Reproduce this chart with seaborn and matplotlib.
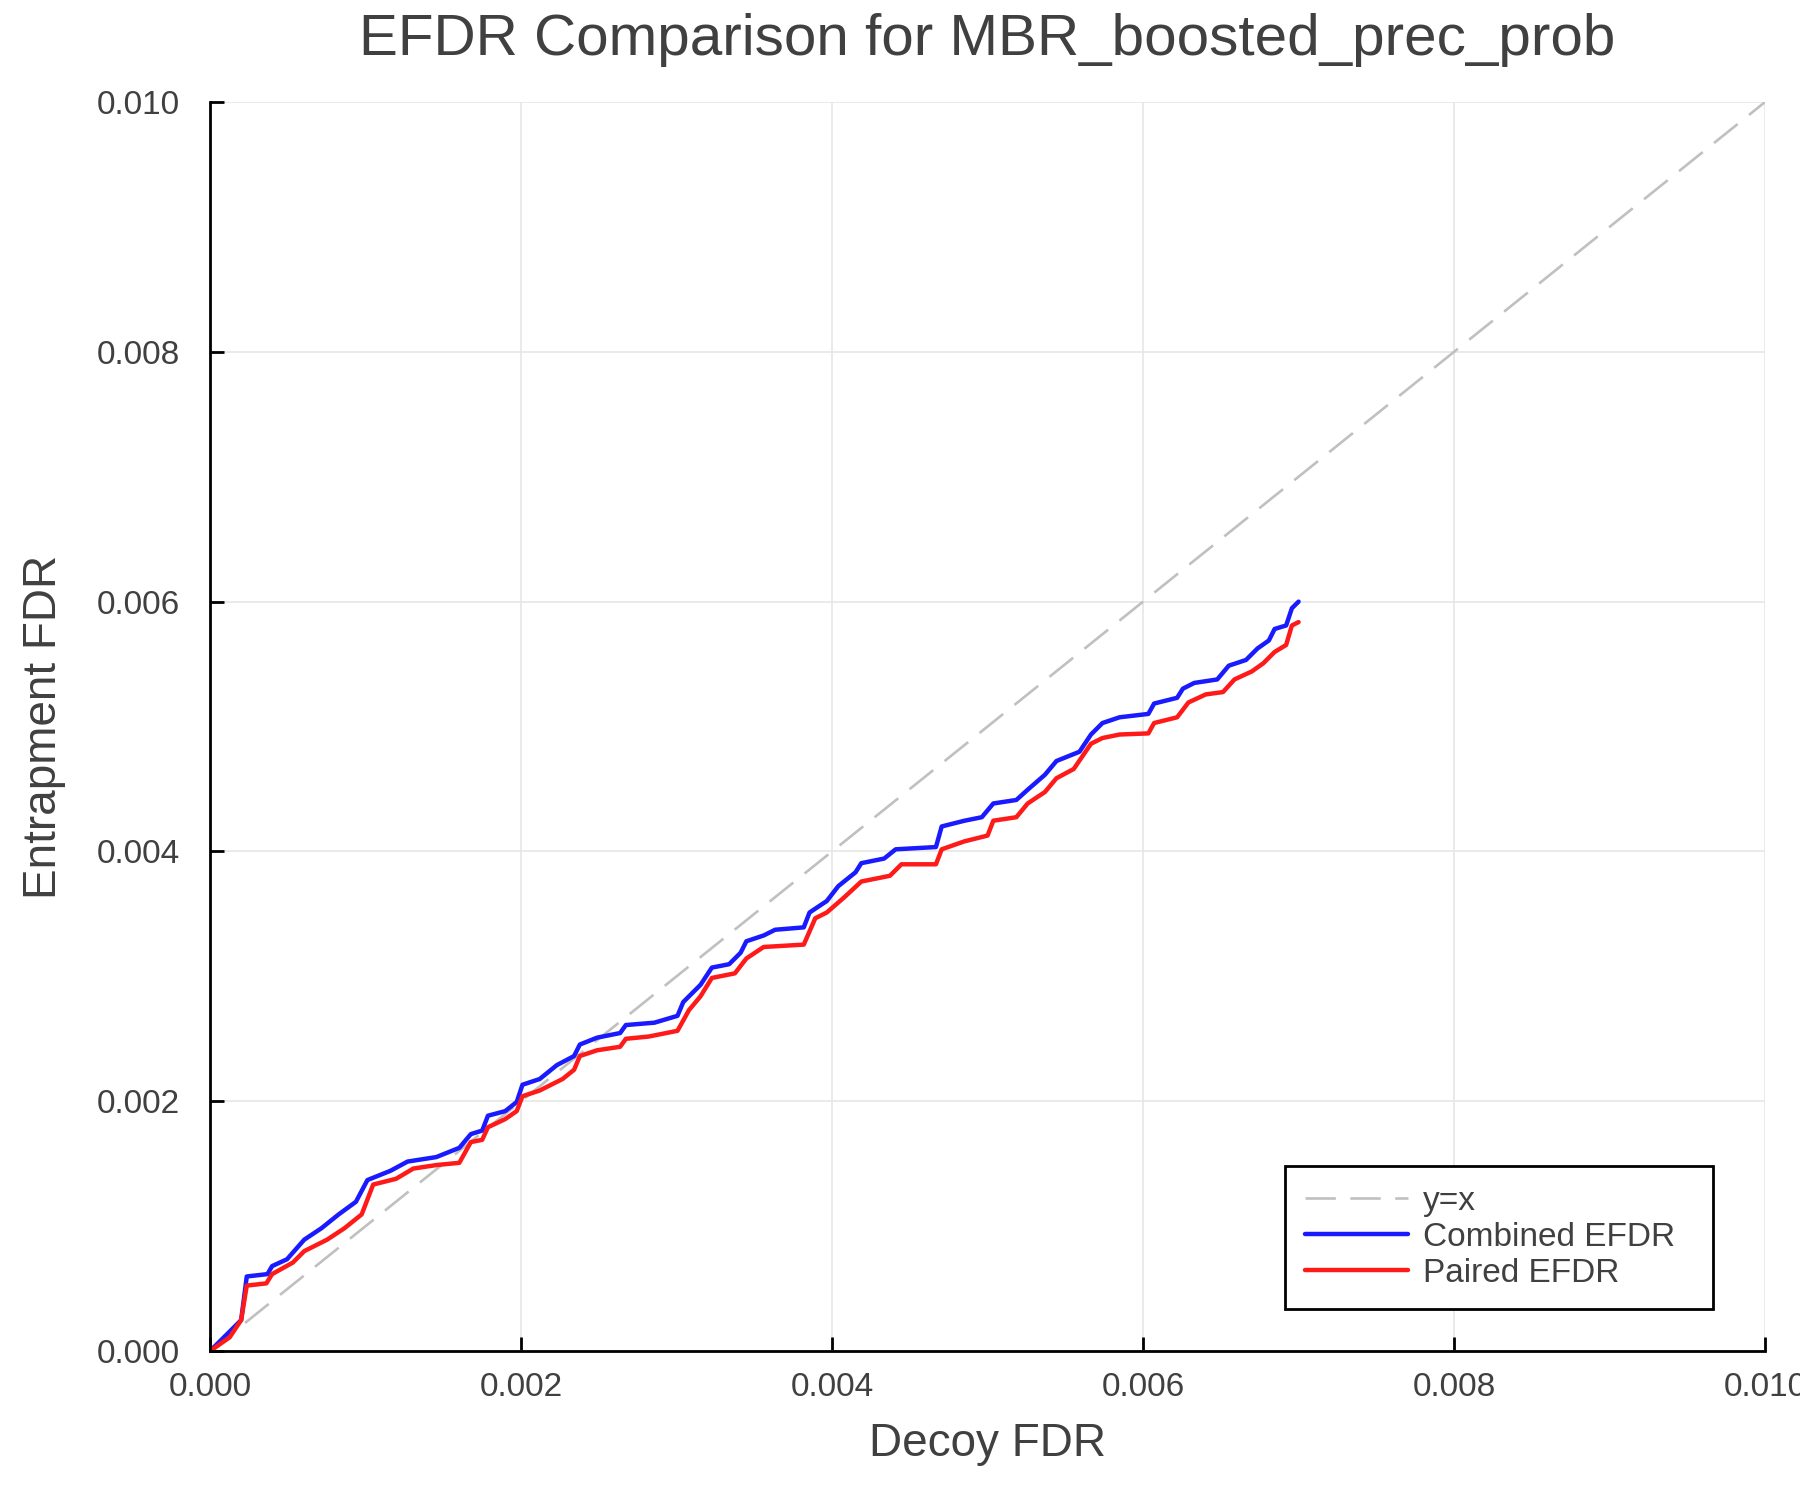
import numpy as np
import pandas as pd
import matplotlib
matplotlib.use('Agg')
import matplotlib.pyplot as plt
import seaborn as sns
from matplotlib.ticker import FormatStrFormatter

# values, in units of 1e-3
combined_x = [0.0, 0.126, 0.2, 0.236, 0.369, 0.399, 0.495, 0.606, 0.716, 0.827,
              0.938, 1.012, 1.16, 1.27, 1.455, 1.603, 1.677, 1.75, 1.787, 1.898,
              1.972, 2.009, 2.12, 2.23, 2.341, 2.378, 2.489, 2.637, 2.674, 2.858,
              3.006, 3.043, 3.154, 3.227, 3.338, 3.412, 3.449, 3.56, 3.634, 3.818,
              3.855, 3.966, 4.04, 4.151, 4.188, 4.335, 4.409, 4.668, 4.705, 4.852,
              4.963, 5.037, 5.185, 5.258, 5.369, 5.443, 5.591, 5.665, 5.739, 5.849,
              6.034, 6.071, 6.219, 6.256, 6.329, 6.477, 6.551, 6.662, 6.736, 6.809,
              6.846, 6.92, 6.957, 7.0]
combined_y = [0.0, 0.156, 0.248, 0.597, 0.616, 0.68, 0.735, 0.892, 0.983, 1.094,
              1.195, 1.369, 1.443, 1.517, 1.553, 1.627, 1.737, 1.765, 1.884, 1.921,
              1.994, 2.132, 2.178, 2.289, 2.362, 2.454, 2.509, 2.546, 2.61, 2.629,
              2.684, 2.794, 2.932, 3.07, 3.097, 3.189, 3.281, 3.327, 3.373, 3.392,
              3.511, 3.603, 3.722, 3.833, 3.906, 3.943, 4.017, 4.035, 4.2, 4.246,
              4.274, 4.384, 4.412, 4.494, 4.614, 4.724, 4.798, 4.936, 5.028, 5.074,
              5.101, 5.184, 5.23, 5.303, 5.349, 5.377, 5.487, 5.533, 5.625, 5.689,
              5.781, 5.809, 5.947, 6.0]

paired_x = [0.0, 0.126, 0.2, 0.236, 0.362, 0.399, 0.532, 0.606, 0.753, 0.864,
            0.975, 1.049, 1.196, 1.307, 1.455, 1.603, 1.677, 1.75, 1.787, 1.898,
            1.972, 2.009, 2.12, 2.267, 2.341, 2.378, 2.489, 2.637, 2.674, 2.821,
            3.006, 3.08, 3.154, 3.227, 3.375, 3.449, 3.56, 3.818, 3.892, 3.966,
            4.077, 4.188, 4.372, 4.446, 4.668, 4.705, 4.852, 5.0, 5.037, 5.185,
            5.258, 5.369, 5.443, 5.554, 5.665, 5.739, 5.849, 6.034, 6.071, 6.219,
            6.292, 6.403, 6.514, 6.588, 6.699, 6.773, 6.846, 6.92, 6.957, 7.0]
paired_y = [0.0, 0.11, 0.248, 0.524, 0.542, 0.616, 0.708, 0.8, 0.892, 0.983,
            1.094, 1.333, 1.379, 1.461, 1.489, 1.507, 1.673, 1.691, 1.792, 1.857,
            1.921, 2.04, 2.086, 2.178, 2.252, 2.362, 2.408, 2.436, 2.5, 2.518,
            2.564, 2.73, 2.84, 2.987, 3.024, 3.143, 3.235, 3.254, 3.465, 3.511,
            3.631, 3.759, 3.805, 3.897, 3.897, 4.017, 4.081, 4.127, 4.246, 4.274,
            4.384, 4.476, 4.586, 4.66, 4.862, 4.908, 4.936, 4.945, 5.028, 5.074,
            5.193, 5.257, 5.276, 5.377, 5.441, 5.506, 5.597, 5.653, 5.809, 5.836]

diag = [0.0, 0.01]
ticks = [0.0, 0.002, 0.004, 0.006, 0.008, 0.010]

TXT = '#404040'

sns.set_theme(style='whitegrid')
plt.rcParams['font.family'] = ['Liberation Sans', 'DejaVu Sans']

fig, ax = plt.subplots(figsize=(18, 15), dpi=100)
fig.subplots_adjust(left=0.1167, right=0.9806, top=0.932, bottom=0.0993)

sns.lineplot(x=diag, y=diag, ax=ax, color='#c0c0c0', lw=1.9,
             linestyle=(0, (11.5, 5.5)), label='y=x')
sns.lineplot(x=np.array(combined_x) * 1e-3, y=np.array(combined_y) * 1e-3, ax=ax,
             color='#1a1aff', lw=3.2, sort=False, label='Combined EFDR',
             solid_joinstyle='round')
sns.lineplot(x=np.array(paired_x) * 1e-3, y=np.array(paired_y) * 1e-3, ax=ax,
             color='#ff1a1a', lw=3.2, sort=False, label='Paired EFDR',
             solid_joinstyle='round')

ax.set_xlim(0, 0.01)
ax.set_ylim(0, 0.01)
ax.set_xticks(ticks)
ax.set_yticks(ticks)
ax.xaxis.set_major_formatter(FormatStrFormatter('%.3f'))
ax.yaxis.set_major_formatter(FormatStrFormatter('%.3f'))

ax.grid(True, color='#e6e6e6', lw=1.2)
for side in ['top', 'right']:
    ax.spines[side].set_visible(False)
for side in ['left', 'bottom']:
    ax.spines[side].set_color('black')
    ax.spines[side].set_linewidth(2)

ax.tick_params(direction='in', length=10, width=2, color='black',
               labelsize=24, labelcolor=TXT)
ax.tick_params(axis='x', pad=15, bottom=True)
ax.tick_params(axis='y', pad=22, left=True)

ax.set_title('EFDR Comparison for MBR_boosted_prec_prob', fontsize=42,
             color=TXT, pad=34)
ax.set_xlabel('Decoy FDR', fontsize=33, color=TXT, labelpad=14)
ax.set_ylabel('Entrapment FDR', fontsize=33, color=TXT, labelpad=22)

leg = ax.legend(loc='lower left', bbox_to_anchor=(0.691, 0.0336, 0.2756, 0.1209),
                mode='expand', borderaxespad=0, fontsize=24, handlelength=3.1,
                handletextpad=0.45, labelspacing=0.15, borderpad=0.6,
                fancybox=False, framealpha=1)
leg.get_frame().set_edgecolor('black')
leg.get_frame().set_linewidth(2)
for t in leg.get_texts():
    t.set_color(TXT)

fig.savefig('out.png', dpi=100)
